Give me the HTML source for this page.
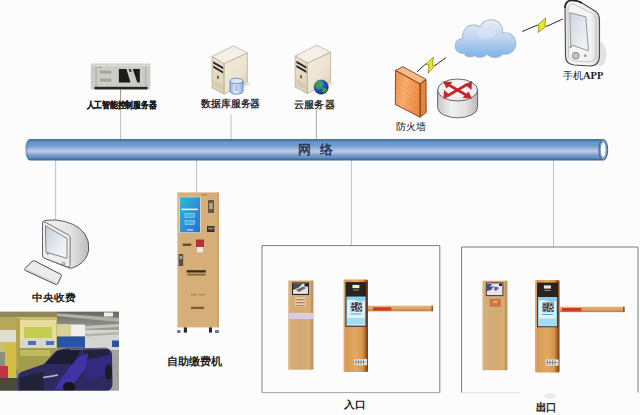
<!DOCTYPE html>
<html><head><meta charset="utf-8"><title>Parking system</title>
<style>
html,body{margin:0;padding:0;background:#fcfcfd;width:640px;height:415px;overflow:hidden}
svg{display:block}
text{font-family:"Liberation Sans",sans-serif}
</style></head><body>
<svg width="640" height="415" viewBox="0 0 640 415">
<defs>
<linearGradient id="bus" x1="0" y1="0" x2="0" y2="1">
<stop offset="0" stop-color="#46698f"/>
<stop offset="0.08" stop-color="#537fae"/>
<stop offset="0.15" stop-color="#6497cc"/>
<stop offset="0.32" stop-color="#6c9fd2"/>
<stop offset="0.48" stop-color="#adbbe0"/>
<stop offset="0.56" stop-color="#c2c6e6"/>
<stop offset="0.64" stop-color="#acbadf"/>
<stop offset="0.77" stop-color="#6e9dcd"/>
<stop offset="0.87" stop-color="#6290c2"/>
<stop offset="0.93" stop-color="#4d7099"/>
<stop offset="1" stop-color="#456688"/>
</linearGradient>
<linearGradient id="cloudg" x1="0" y1="0" x2="0" y2="1">
<stop offset="0" stop-color="#e6eefa"/>
<stop offset="0.5" stop-color="#b9d3f1"/>
<stop offset="1" stop-color="#76b0ea"/>
</linearGradient>
<linearGradient id="tan" x1="0" y1="0" x2="1" y2="0">
<stop offset="0" stop-color="#caa06a"/>
<stop offset="0.5" stop-color="#d6ad74"/>
<stop offset="1" stop-color="#c99d64"/>
</linearGradient>
<linearGradient id="gold" x1="0" y1="0" x2="1" y2="0">
<stop offset="0" stop-color="#c99a5c"/>
<stop offset="0.5" stop-color="#dcae70"/>
<stop offset="1" stop-color="#c4935a"/>
</linearGradient>
<linearGradient id="orange" x1="0" y1="0" x2="1" y2="0">
<stop offset="0" stop-color="#cf8a45"/>
<stop offset="0.5" stop-color="#e0a060"/>
<stop offset="1" stop-color="#c98240"/>
</linearGradient>
<linearGradient id="screen" x1="0" y1="0" x2="0" y2="1">
<stop offset="0" stop-color="#2aa0d8"/>
<stop offset="1" stop-color="#1c64c0"/>
</linearGradient>
<linearGradient id="router" x1="0" y1="0" x2="0" y2="1">
<stop offset="0" stop-color="#f4f4f4"/>
<stop offset="1" stop-color="#c8c8c8"/>
</linearGradient>
<linearGradient id="fw" x1="0" y1="0" x2="1" y2="1">
<stop offset="0" stop-color="#f7a868"/>
<stop offset="1" stop-color="#ee8436"/>
</linearGradient>
</defs>

<!-- connection lines -->
<g stroke="#c2c2c6" stroke-width="1">
<line x1="120.5" y1="89" x2="120.5" y2="110" stroke="#b89090"/>
<line x1="120.5" y1="110" x2="120.5" y2="140"/>
<line x1="231" y1="114.5" x2="231" y2="140"/>
<line x1="316.4" y1="110" x2="316.4" y2="140" stroke="#a8a8ac"/>
<line x1="55.6" y1="160" x2="55.6" y2="220.3"/>
<line x1="196.5" y1="160" x2="196.5" y2="193"/>
<line x1="351.4" y1="160" x2="351.4" y2="246"/>
<line x1="553.5" y1="160" x2="553.5" y2="247"/>
</g>

<!-- network bus -->
<rect x="25" y="139" width="581" height="21.5" rx="5" ry="10.7" fill="url(#bus)"/>
<path d="M31,139.6 Q27,142 27,149.8 Q27,157.6 31,160" fill="none" stroke="#4e6f96" stroke-width="0.8" opacity="0.7"/>
<ellipse cx="603.3" cy="149.8" rx="4.4" ry="10.4" fill="#7f9cc4" stroke="#3e5576" stroke-width="0.9"/>
<ellipse cx="603.2" cy="149.8" rx="2.3" ry="7.3" fill="#fbfcff"/>
<text x="298.3" y="154" font-size="13" fill="#1c2a4a" stroke="#1c2a4a" stroke-width="0.35">网</text>
<text x="320.3" y="154" font-size="13" fill="#1c2a4a" stroke="#1c2a4a" stroke-width="0.35">络</text>

<!-- AI server -->
<g>
<rect x="90.8" y="63.5" width="59.5" height="26" fill="#cbccc6"/>
<rect x="90.8" y="64.7" width="59.5" height="1.6" fill="#dededa"/>
<rect x="94.5" y="86.8" width="53" height="2.6" fill="#262626"/>
<rect x="95.6" y="66" width="1" height="20.5" fill="#a9aba5"/>
<rect x="145.3" y="66" width="1" height="20.5" fill="#a9aba5"/>
<rect x="99" y="69.8" width="13.2" height="4.6" fill="#dcdcd8"/>
<rect x="99.6" y="70.4" width="12" height="3.4" fill="#a4a6a0"/>
<rect x="99" y="77.8" width="13.2" height="4.6" fill="#dcdcd8"/>
<rect x="99.6" y="78.4" width="12" height="3.4" fill="#a4a6a0"/>
<rect x="99.5" y="66.8" width="1.6" height="1.2" fill="#777"/>
<polygon points="118.9,68.9 126.4,68.9 130.5,82.5 118.9,82.5" fill="#1c1a1a"/>
<polygon points="128.6,68.9 130.8,68.9 131.8,72 129.6,72" fill="#3a3838"/>
<polygon points="132.8,68.9 139.8,68.9 139.8,82.5 137.3,82.5" fill="#1c1a1a"/>
</g>
<text x="86.5" y="107.6" font-size="8.8" font-weight="bold" fill="#1c1c1c" stroke="#1c1c1c" stroke-width="0.3" textLength="70" lengthAdjust="spacingAndGlyphs">人工智能控制服务器</text>

<!-- DB server -->
<defs>
<linearGradient id="twr" x1="0" y1="0" x2="1" y2="1">
<stop offset="0" stop-color="#f3ece0"/><stop offset="0.6" stop-color="#ece2cf"/><stop offset="1" stop-color="#d9c9ab"/></linearGradient>
<linearGradient id="twf" x1="0" y1="0" x2="0" y2="1">
<stop offset="0" stop-color="#ebe1cc"/><stop offset="1" stop-color="#ddd0b4"/></linearGradient>
<linearGradient id="cyl" x1="0" y1="0" x2="1" y2="0">
<stop offset="0" stop-color="#8fb2dc"/><stop offset="0.45" stop-color="#e6f0fa"/><stop offset="1" stop-color="#8aaed8"/></linearGradient>
<radialGradient id="glb" cx="0.35" cy="0.3" r="0.8">
<stop offset="0" stop-color="#6fb0e8"/><stop offset="0.5" stop-color="#1f58b0"/><stop offset="1" stop-color="#0e2a6a"/></radialGradient>
<g id="tower">
<polygon points="0,10.8 21.6,0 35.4,7.2 12.2,18" fill="#f5f0e6" stroke="#a89c84" stroke-width="0.6" stroke-linejoin="round"/>
<polygon points="0,10.8 12.2,18 12.2,48.4 0,41.9" fill="url(#twf)" stroke="#a89c84" stroke-width="0.6"/>
<polygon points="12.2,18 35.4,7.2 35.4,36.2 12.2,48.4" fill="url(#twr)" stroke="#a89c84" stroke-width="0.6"/>
<polygon points="35.4,36.2 39,37.6 30,43 28,41" fill="#e8e0d0"/>
<polygon points="1.2,15.5 11.2,21.3 11.2,23.5 1.2,17.7" fill="#2a2a2a"/>
<polygon points="1.2,19.8 11.2,25.6 11.2,27.8 1.2,22" fill="#2a2a2a"/>
<rect x="5" y="30" width="1.8" height="3" fill="#5a5a5a"/>
<polygon points="1.5,35 10.5,40 10.5,41 1.5,36" fill="#c8bca4"/>
<polygon points="1.5,37.5 10.5,42.5 10.5,43.5 1.5,38.5" fill="#c8bca4"/>
</g>
</defs>
<use href="#tower" x="212" y="45.8"/>
<path d="M230,81 v10.2 a6.5,3 0 0 0 13,0 v-10.2z" fill="url(#cyl)" stroke="#5a80b0" stroke-width="0.8"/>
<ellipse cx="236.5" cy="81" rx="6.5" ry="2.7" fill="#d8e8f8" stroke="#5a80b0" stroke-width="0.8"/>
<rect x="235.6" y="85" width="1.8" height="6" fill="#6a8cbc" opacity="0.6"/>
<text x="201.2" y="107.3" font-size="10" font-weight="bold" fill="#2e2a36" textLength="59" lengthAdjust="spacingAndGlyphs">数据库服务器</text>

<!-- Cloud server -->
<use href="#tower" x="295.2" y="45.2"/>
<circle cx="321.2" cy="87.1" r="7.2" fill="url(#glb)" stroke="#2a3a6a" stroke-width="0.5"/>
<path d="M316,83 q2,-3 5,-2 q1,2 -1,3.5 q2,2 0.5,4 q-3,1 -4.5,-1.5z" fill="#3aa048"/>
<path d="M322.5,88 q3,-1 4.5,1.5 q-1,3 -4,3.2 q-1.5,-2 -0.5,-4.7z" fill="#3aa048"/>
<text x="294.2" y="107.6" font-size="10" font-weight="bold" fill="#2a2a2a" textLength="40.5" lengthAdjust="spacingAndGlyphs">云服务器</text>

<!-- firewall -->
<defs><linearGradient id="fw2" x1="0" y1="0" x2="1" y2="0.3">
<stop offset="0" stop-color="#ef8a44"/><stop offset="0.45" stop-color="#f6ab6c"/><stop offset="1" stop-color="#ec8840"/></linearGradient></defs>
<polygon points="395.5,70.4 403,66.7 426,79.4 420,84" fill="#f7bb88" stroke="#6a2e0e" stroke-width="0.8" stroke-linejoin="round"/>
<polygon points="420,84 426,79.4 426.2,112.5 420,117.2" fill="#e6843e" stroke="#6a2e0e" stroke-width="0.8" stroke-linejoin="round"/>
<polygon points="395.5,70.4 420,84 420,117.2 395.3,104.4" fill="url(#fw2)" stroke="#6a2e0e" stroke-width="0.8" stroke-linejoin="round"/>
<line x1="396.5" y1="75.2" x2="419" y2="88.0" stroke="#fbc89a" stroke-width="0.8" opacity="0.3"/><line x1="396.5" y1="80.0" x2="419" y2="92.8" stroke="#fbc89a" stroke-width="0.8" opacity="0.3"/><line x1="396.5" y1="84.8" x2="419" y2="97.6" stroke="#fbc89a" stroke-width="0.8" opacity="0.3"/><line x1="396.5" y1="89.6" x2="419" y2="102.4" stroke="#fbc89a" stroke-width="0.8" opacity="0.3"/><line x1="396.5" y1="94.4" x2="419" y2="107.2" stroke="#fbc89a" stroke-width="0.8" opacity="0.3"/><line x1="396.5" y1="99.2" x2="419" y2="112.0" stroke="#fbc89a" stroke-width="0.8" opacity="0.3"/>
<text x="395.5" y="130" font-size="10" fill="#222" textLength="30" lengthAdjust="spacingAndGlyphs">防火墙</text>

<!-- router -->
<defs><linearGradient id="rside" x1="0" y1="0" x2="1" y2="0">
<stop offset="0" stop-color="#c8c8c8"/><stop offset="0.35" stop-color="#f0f0f0"/><stop offset="0.7" stop-color="#e2e2e2"/><stop offset="1" stop-color="#b8b8b8"/></linearGradient>
<radialGradient id="rtop" cx="0.5" cy="0.4" r="0.7">
<stop offset="0" stop-color="#ffffff"/><stop offset="1" stop-color="#e4e2e2"/></radialGradient></defs>
<path d="M437.6,90 v17.5 a20,10.3 0 0 0 40,0 v-17.5z" fill="url(#rside)" stroke="#5a5a5a" stroke-width="0.9"/>
<ellipse cx="457.6" cy="90" rx="20" ry="11" fill="url(#rtop)" stroke="#5a5a5a" stroke-width="0.9"/>
<g stroke="#c2262c" stroke-width="2.6" fill="none" stroke-linecap="round">
<line x1="448" y1="84.5" x2="467" y2="95.5"/>
<line x1="448" y1="95.5" x2="467" y2="84.5"/>
</g>
<g fill="#c2262c">
<polygon points="443,81.5 452.5,82 446.5,88.5"/>
<polygon points="472,98.5 462.5,98 468.5,91.5"/>
<polygon points="443.5,99 444,90 450.5,95.5"/>
<polygon points="472,81 471.5,90 465,84.5"/>
</g>

<!-- lightning 1 -->
<g stroke="#2a2a1a" stroke-width="1">
<line x1="416.9" y1="71.9" x2="426.5" y2="63.3"/>
<line x1="435" y1="65.6" x2="446.2" y2="57.4"/>
</g>
<polygon points="425.5,64.5 433.5,57 432.5,65.5 436,64.8 428,73.3 429,65" fill="#ece423" stroke="#6a6a10" stroke-width="0.6"/>

<!-- cloud -->
<defs><linearGradient id="cloudu" gradientUnits="userSpaceOnUse" x1="0" y1="20" x2="0" y2="58">
<stop offset="0" stop-color="#e8eef8"/><stop offset="0.45" stop-color="#c2d6f0"/><stop offset="1" stop-color="#7ab2ea"/></linearGradient></defs>
<g fill="#a4b6ca"><circle cx="462.5" cy="46" r="7.9"/><circle cx="473.5" cy="36" r="11.4"/><circle cx="491" cy="31.5" r="12.200000000000001"/><circle cx="505" cy="43.5" r="11.3"/><circle cx="480" cy="48" r="9.9"/><circle cx="495" cy="47" r="10.9"/><circle cx="470" cy="50" r="7.4"/></g>
<g fill="url(#cloudu)"><circle cx="462.5" cy="46" r="7"/><circle cx="473.5" cy="36" r="10.5"/><circle cx="491" cy="31.5" r="11.3"/><circle cx="505" cy="43.5" r="10.4"/><circle cx="480" cy="48" r="9"/><circle cx="495" cy="47" r="10"/><circle cx="470" cy="50" r="6.5"/></g>
<ellipse cx="486" cy="34" rx="9" ry="5" fill="#eef3fb" opacity="0.3"/>

<!-- lightning 2 -->
<g stroke="#2a2a1a" stroke-width="1">
<line x1="522.3" y1="31.5" x2="537.5" y2="25"/>
<line x1="546.8" y1="26.3" x2="562.7" y2="19"/>
</g>
<polygon points="536.5,26 545.8,17.8 544.8,26.2 547.5,25.6 538,32.5 539,25.4" fill="#ece423" stroke="#6a6a10" stroke-width="0.6"/>

<!-- phone -->
<defs><linearGradient id="phb" x1="0" y1="0" x2="1" y2="0">
<stop offset="0" stop-color="#dcdcdc"/><stop offset="0.15" stop-color="#f6f6f6"/><stop offset="0.75" stop-color="#f2f2f2"/><stop offset="1" stop-color="#cfcfcf"/></linearGradient>
<linearGradient id="phs" x1="0" y1="0" x2="1" y2="1">
<stop offset="0" stop-color="#cfd6e0"/><stop offset="1" stop-color="#f4f6fa"/></linearGradient></defs>
<ellipse cx="600" cy="54" rx="6.5" ry="12" fill="#e2e2e2"/>
<path d="M565,8 Q565,1 571,0.5 Q577,0 582,3 L595,11 Q599.5,14 599.5,20 L599.5,55 Q599.5,66 590,66 L574,65 Q565.5,64 565.5,56 Z" fill="url(#phb)" stroke="#4a4a4a" stroke-width="1.1"/>
<path d="M565,8 Q565,1 571,0.5 Q577,0 582,3" fill="none" stroke="#222" stroke-width="1.6"/>
<path d="M568,10 Q568,4 573,4 L592,13 Q596,15 596,20 L596,54 Q596,62 588,62 L575,61 Q568.5,60 568.5,54 Z" fill="none" stroke="#bdbdbd" stroke-width="0.8"/>
<polygon points="569.8,12.7 585.9,16.9 588.4,50.7 570.7,44.8" fill="url(#phs)" stroke="#8a8a8a" stroke-width="0.9"/>
<circle cx="575.8" cy="55.7" r="3.4" fill="#c4c4c4" stroke="#6a6a6a" stroke-width="0.7"/>
<circle cx="570.7" cy="46.8" r="1.4" fill="#9a9a9a"/>
<circle cx="585.3" cy="55.7" r="1.4" fill="#9a9a9a"/>
<text x="563" y="79.4" font-size="9.8" fill="#222">手机<tspan font-family="Liberation Serif, serif" font-weight="bold" font-size="10.5">APP</tspan></text>

<!-- monitor + keyboard -->
<defs><linearGradient id="crt" x1="0" y1="0" x2="1" y2="0">
<stop offset="0" stop-color="#f2f2f2"/><stop offset="0.6" stop-color="#e4e4e4"/><stop offset="1" stop-color="#bcbcbc"/></linearGradient>
<linearGradient id="mscr" x1="0" y1="0" x2="1" y2="1">
<stop offset="0" stop-color="#c4ccd8"/><stop offset="0.6" stop-color="#e8ecf2"/><stop offset="1" stop-color="#f8f8fa"/></linearGradient></defs>
<path d="M42.5,224 Q42.5,220.5 46,220.3 L56,220 Q76,222 85,234 Q89.5,241 88.7,250 Q87,260 78,265.5 L72,268 Q70,268.5 68,267.5 L44,258 Q42.5,257 42.5,255 Z" fill="url(#crt)" stroke="#4a4a4a" stroke-width="0.9"/>
<path d="M42.5,223 Q43,221.3 45,222 L68.5,235 Q70.2,236 70.2,238 L70,265.5 Q69.8,267.8 67.5,267 L44,258 Q42.5,257.3 42.5,255.5 Z" fill="#eeeeee" stroke="#555" stroke-width="0.8"/>
<polygon points="45.4,225.8 67,238.4 67,258.3 46,252.2" fill="url(#mscr)" stroke="#6a6a6a" stroke-width="0.8"/>
<circle cx="47.8" cy="254" r="0.9" fill="#888"/>
<circle cx="63.5" cy="263.6" r="1.5" fill="#d8d8d8" stroke="#666" stroke-width="0.6"/>
<path d="M25,268.5 L32.5,261 Q33.5,260.3 35,261 L61,274.5 Q62,275.5 61.2,276.5 L57.5,284 Q56.8,285 55.5,284.4 L25.5,270.5 Q24.3,269.6 25,268.5 Z" fill="#ececec" stroke="#3a3a3a" stroke-width="0.9"/>
<path d="M27,269.5 L56,283" stroke="#c4c4c4" stroke-width="0.8"/>
<text x="32.3" y="301.2" font-size="10" font-weight="bold" fill="#1a1a1a" textLength="43" lengthAdjust="spacingAndGlyphs">中央收费</text>

<!-- parking photo -->
<defs>
<linearGradient id="ceil" x1="0" y1="0" x2="0" y2="1">
<stop offset="0" stop-color="#66665f"/><stop offset="1" stop-color="#a4a49c"/>
</linearGradient>
<linearGradient id="carg" x1="0" y1="0" x2="1" y2="0">
<stop offset="0" stop-color="#23223e"/><stop offset="0.5" stop-color="#2c2660"/><stop offset="1" stop-color="#25234a"/>
</linearGradient>
<filter id="bl1" x="-5%" y="-5%" width="110%" height="110%"><feGaussianBlur stdDeviation="0.75"/></filter>
<clipPath id="phc"><rect x="0" y="311.5" width="119" height="79.3"/></clipPath>
</defs>
<g clip-path="url(#phc)"><g filter="url(#bl1)">
<rect x="0" y="311.5" width="119" height="79.3" fill="#8e8e7e"/>
<rect x="57" y="311.5" width="62" height="20" fill="url(#ceil)"/>
<polygon points="40,312 119,318 119,322 45,315" fill="#b0b0a8"/>
<polygon points="85,326 119,324 119,327 85,329" fill="#c4c4be"/>
<rect x="104" y="312.5" width="9" height="4" fill="#f0f0ec"/>
<rect x="0" y="311.5" width="57" height="6" fill="#8e885a"/>
<rect x="0" y="317" width="57" height="35" fill="#cbbe6c"/>
<rect x="20" y="320" width="36" height="28" fill="#e6dc9c"/>
<rect x="24" y="327" width="28" height="11" fill="#c6cc50"/>
<rect x="20" y="339" width="36" height="9" fill="#d6d8ce"/>
<rect x="28" y="341" width="8" height="4" fill="#4a72b6"/>
<rect x="46" y="341" width="8" height="4" fill="#4a72b6"/>
<rect x="0" y="330" width="16" height="12" fill="#e0ded0"/>
<rect x="0" y="317" width="16" height="13" fill="#b6a85a"/>
<rect x="16" y="318" width="4" height="52" fill="#b8a448"/>
<rect x="5" y="344" width="11" height="34" fill="#d2be44"/>
<rect x="57" y="324.5" width="28" height="12" fill="#eeeeea"/>
<rect x="57" y="324.5" width="14" height="12" fill="#dad09a"/>
<rect x="57" y="336.5" width="28" height="11" fill="#2a52a4"/>
<rect x="85" y="330" width="34" height="22" fill="#d4d4d0"/>
<polygon points="85,334 119,332 119,334.5 85,336.5" fill="#b4b4ae"/>
<rect x="112" y="340.5" width="7" height="6.5" fill="#2a52a4"/>
<rect x="18" y="348" width="40" height="24" fill="#a29c4e"/>
<rect x="20" y="350" width="30" height="6" fill="#c2b85c"/>
<rect x="100" y="350" width="19" height="41" fill="#a2a2a0"/>
<rect x="0" y="366" width="8" height="25" fill="#c23444"/>
<rect x="0" y="378" width="18" height="13" fill="#4a4a3a"/>
<path d="M18,391 L18,376 Q19,372 24,371 L44,364 L56,351 Q60,349 66,348.5 L106,347.7 Q111,349 112,354 L112.5,385 Q111,391 106,391 Z" fill="#2e2a5e"/>
<polygon points="45,364 58,351 80,349.5 76,364" fill="#1e1c30"/>
<polygon points="83,349.5 107,349 109.5,358 85,361" fill="#24223e"/>
<path d="M84,360 L110,355 L111,374 L86,380 Z" fill="#332a80"/>
<polygon points="54,390 62,377 78,357 88,353 86,368 70,388" fill="#4230a8"/>
<path d="M70,349.5 L108,348.5" stroke="#74709a" stroke-width="1.2"/>
<path d="M20,378 Q30,374 44,372 L44,391 L20,391Z" fill="#23213a"/>
<path d="M43,377.5 Q51,376.5 58,375" stroke="#b4b4cc" stroke-width="1.5" fill="none"/>
<ellipse cx="69" cy="387" rx="6" ry="5" fill="#16161c"/>
<ellipse cx="108.5" cy="372" rx="3.5" ry="8" fill="#1a1a20"/>
</g></g>

<!-- kiosk -->
<defs>
<linearGradient id="kscr" x1="0" y1="0" x2="1" y2="1">
<stop offset="0" stop-color="#30b8d4"/><stop offset="0.5" stop-color="#2c94d8"/><stop offset="1" stop-color="#2a70c8"/>
</linearGradient>
</defs>
<g>
<rect x="177" y="192.4" width="41.7" height="135" fill="#d5ae7a"/>
<rect x="177" y="192.4" width="1.2" height="135" fill="#e6cda6"/>
<rect x="217.5" y="192.4" width="1.2" height="135" fill="#c49a62"/>
<rect x="201.5" y="194" width="5" height="1.6" fill="#e0804a"/>
<rect x="179.3" y="196.7" width="21.4" height="36.3" fill="#e9e2d4"/>
<rect x="180" y="197.3" width="20" height="35" fill="url(#kscr)"/>
<rect x="181.5" y="208.6" width="16.5" height="1.6" fill="#e8f6fc"/>
<rect x="185" y="213.5" width="9.5" height="4" fill="#4ab0e4" stroke="#b8e2f6" stroke-width="0.5"/>
<rect x="185" y="220.5" width="9.5" height="4" fill="#4ab0e4" stroke="#b8e2f6" stroke-width="0.5"/>
<rect x="187" y="229.3" width="6" height="1.2" fill="#cfe8f8"/>
<rect x="208" y="200" width="6" height="13" fill="#6a5844"/>
<rect x="209.3" y="203" width="3.4" height="6" fill="#b8a890"/>
<rect x="207" y="226" width="7.5" height="6" fill="#3e3224"/>
<rect x="208" y="227.5" width="5.5" height="2" fill="#8a7a66"/>
<rect x="196" y="239.5" width="8" height="7.5" fill="#b83232"/>
<rect x="197" y="247" width="6" height="5.2" fill="#f1ece6"/>
<rect x="182.7" y="243.6" width="8.6" height="2.3" fill="#5e4630"/>
<rect x="178.6" y="254" width="4.6" height="12" fill="#55524e"/>
<rect x="179.6" y="256" width="2.6" height="3" fill="#a9a6a0"/>
<rect x="186.7" y="270.2" width="19.1" height="2.5" fill="#3a2c1c"/>
<rect x="187" y="272.7" width="18.5" height="1.5" fill="#c09a68"/>
<rect x="187.5" y="274.2" width="18" height="1.2" fill="#6a5034"/>
<rect x="191" y="293.9" width="6" height="1.6" fill="#b08a58"/>
<rect x="199" y="293.9" width="6" height="1.6" fill="#b08a58"/>
<rect x="191" y="306.8" width="13" height="2.2" fill="#7a5c38"/>
<rect x="183.8" y="327.4" width="3.2" height="5.2" fill="#2a2a2a"/>
<rect x="209" y="327.4" width="3" height="5.2" fill="#2a2a2a"/>
<rect x="177" y="330" width="3.5" height="3" fill="#7a7a7a"/>
<rect x="215" y="330" width="4" height="3" fill="#7a7a7a"/>
</g>
<text x="166.8" y="365.4" font-size="11" font-weight="bold" fill="#222" textLength="55.5" lengthAdjust="spacingAndGlyphs">自助缴费机</text>

<!-- entrance box -->
<defs>
<linearGradient id="tk" x1="0" y1="0" x2="1" y2="0">
<stop offset="0" stop-color="#e6cca6"/><stop offset="0.07" stop-color="#d6ae78"/><stop offset="0.5" stop-color="#d4a974"/><stop offset="0.85" stop-color="#d8ad74"/><stop offset="0.95" stop-color="#b88e5a"/><stop offset="1" stop-color="#c9a46e"/>
</linearGradient>
<linearGradient id="br" x1="0" y1="0" x2="1" y2="0">
<stop offset="0" stop-color="#e0b078"/><stop offset="0.1" stop-color="#d89a52"/><stop offset="0.5" stop-color="#e2a864"/><stop offset="0.78" stop-color="#d8954c"/><stop offset="0.9" stop-color="#a8642c"/><stop offset="1" stop-color="#6a3c20"/>
</linearGradient>
<linearGradient id="arm" x1="0" y1="0" x2="0" y2="1">
<stop offset="0" stop-color="#e8b478"/><stop offset="0.6" stop-color="#dca060"/><stop offset="1" stop-color="#b07a40"/>
</linearGradient>
<linearGradient id="tscr" x1="0" y1="0" x2="1" y2="1">
<stop offset="0" stop-color="#3a3a3a"/><stop offset="0.45" stop-color="#9a9a9a"/><stop offset="0.7" stop-color="#e8e8e8"/><stop offset="1" stop-color="#f4f4f4"/>
</linearGradient>
<g id="barrier">
<rect x="0" y="0" width="24.5" height="92.5" rx="1.5" fill="url(#br)"/>
<rect x="2" y="2.6" width="21" height="44.6" fill="#2a221e"/>
<rect x="8.9" y="5.4" width="7" height="3.2" fill="#e8e8e8"/>
<rect x="9.5" y="10" width="6" height="0.9" fill="#9a9a9a"/>
<rect x="2.8" y="17" width="19.4" height="29.4" fill="#6cc4e6"/>
<rect x="3.6" y="17.8" width="17.8" height="27.8" fill="#e0f2fa"/>
<path d="M3.6,21 q4,-2 9,0 q4,2 8.8,0 v-3.2 h-17.8z" fill="#86cfec"/>
<rect x="7.3" y="22.5" width="11.4" height="9.6" fill="#41474d"/><rect x="7.8" y="23" width="3.4" height="3.2" fill="none" stroke="#e8eef2" stroke-width="0.6"/><rect x="14.6" y="23" width="3.4" height="3.2" fill="none" stroke="#e8eef2" stroke-width="0.6"/><rect x="7.8" y="28.7" width="3.4" height="3.2" fill="none" stroke="#e8eef2" stroke-width="0.6"/><rect x="13.0" y="29.1" width="1" height="1" fill="#dfe6ea"/><rect x="13.9" y="29.4" width="1" height="1" fill="#dfe6ea"/><rect x="15.6" y="26.6" width="1" height="1" fill="#dfe6ea"/><rect x="11.6" y="30.7" width="1" height="1" fill="#dfe6ea"/><rect x="13.2" y="27.5" width="1" height="1" fill="#dfe6ea"/><rect x="18.0" y="28.7" width="1" height="1" fill="#dfe6ea"/><rect x="16.9" y="28.8" width="1" height="1" fill="#dfe6ea"/><rect x="15.7" y="27.1" width="1" height="1" fill="#dfe6ea"/><rect x="15.6" y="30.8" width="1" height="1" fill="#dfe6ea"/><rect x="14.9" y="30.2" width="1" height="1" fill="#dfe6ea"/><rect x="15.9" y="26.6" width="1" height="1" fill="#dfe6ea"/><rect x="16.4" y="29.4" width="1" height="1" fill="#dfe6ea"/><rect x="13.5" y="26.5" width="1" height="1" fill="#dfe6ea"/><rect x="17.1" y="28.8" width="1" height="1" fill="#dfe6ea"/>
<rect x="7" y="34" width="11" height="1" fill="#4aa8d8"/>
<rect x="3.6" y="38.5" width="17.8" height="6.5" fill="#a4dcf2"/>
<rect x="10.7" y="79.5" width="12.8" height="6.2" fill="#e8e8e4"/>
<path d="M12.5,80 v5.2 M15,80 v5.2 M17.5,80 v5.2 M20,80 v5.2 M11,82.6 h12" stroke="#6a6a6a" stroke-width="0.7"/>
</g>
</defs>
<polyline points="262,392.6 262,245.6 439.8,245.6 439.8,392.6" fill="none" stroke="#7e7e7e" stroke-width="1"/><line x1="262" y1="392.6" x2="439.8" y2="392.6" stroke="#a4a4a4" stroke-width="1"/>
<!-- entrance ticket machine -->
<rect x="288" y="280.5" width="25.5" height="89.2" fill="url(#tk)"/>
<rect x="292" y="282.4" width="17" height="12.6" fill="#262626"/>
<rect x="293" y="283.5" width="15" height="10.4" fill="#e4e4e2"/>
<polygon points="293,283.5 303,283.5 298,288 293,290" fill="#4a4a4a"/>
<polygon points="296,290 303,286.5 306,288 299,292" fill="#6a6a6a"/>
<rect x="304.5" y="283.5" width="3.5" height="3" fill="#1a1a1a"/>
<rect x="295.4" y="297.4" width="10.2" height="9.6" fill="#e6d2b2"/>
<rect x="296.2" y="299" width="8.6" height="1.3" fill="#b08058"/>
<rect x="296.2" y="302" width="8.6" height="1.3" fill="#b08058"/>
<rect x="296.2" y="305" width="8.6" height="1.3" fill="#b08058"/>
<rect x="288.3" y="312.8" width="25" height="6.2" fill="#d8cce0"/>
<!-- entrance barrier -->
<use href="#barrier" x="343.5" y="279.5"/>
<rect x="368" y="305.7" width="65" height="5.6" fill="url(#arm)"/>
<rect x="373" y="307.3" width="18.3" height="3.2" fill="#cc3a2a"/>
<rect x="431.5" y="305.7" width="1.6" height="5.6" fill="#7a6040"/>
<text x="344" y="408" font-size="10" font-weight="bold" fill="#1a1a1a" textLength="21.5" lengthAdjust="spacingAndGlyphs">入口</text>

<!-- exit box -->
<polyline points="461.6,392.6 461.6,247 638,247 638,392.6" fill="none" stroke="#7c7c7c" stroke-width="1"/>
<line x1="461.6" y1="392.6" x2="520" y2="392.6" stroke="#e2e2e2" stroke-width="1"/>
<!-- exit ticket machine -->
<rect x="482.2" y="280.7" width="25.3" height="89.5" fill="url(#tk)"/>
<rect x="485.8" y="282.4" width="17.6" height="13.7" fill="#3a3440"/>
<rect x="486.8" y="283.4" width="15.6" height="11.7" fill="#e8e4ee"/>
<path d="M487,284 h5 l-2,3 l4,-1 l-3,4 l-4,1z" fill="#4a4a8a"/>
<path d="M494,287 q3,-1 5,1 l-3,3 q-2,0 -2,-4z" fill="#6a64a0"/>
<rect x="499" y="283.6" width="3" height="2.4" fill="#2a2a30"/>
<rect x="489.6" y="298.8" width="11.2" height="7.9" fill="#b87a4a"/>
<rect x="491.4" y="300.2" width="7.6" height="5.2" fill="#e2782e"/>
<rect x="493.5" y="300.8" width="3.5" height="2" fill="#f4b070"/>
<rect x="487" y="311" width="15" height="0.8" fill="#c8a880"/>
<rect x="488" y="316.5" width="4" height="0.8" fill="#c8a880"/>
<rect x="496" y="316.5" width="4" height="0.8" fill="#c8a880"/>
<!-- exit barrier -->
<use href="#barrier" x="535" y="280"/>
<rect x="559.5" y="306.7" width="65" height="5.4" fill="url(#arm)"/>
<rect x="562" y="308" width="19.5" height="3.2" fill="#cc3a2a"/>
<rect x="623" y="306.7" width="1.6" height="5.4" fill="#7a6040"/>
<ellipse cx="550" cy="396" rx="6" ry="3" fill="#ececef"/>
<rect x="537" y="403" width="8.5" height="7.5" fill="#555" opacity="0.45"/>
<text x="535.8" y="410.6" font-size="11" font-weight="bold" fill="#2a2a2a" textLength="21" lengthAdjust="spacingAndGlyphs">出口</text>

</svg>
</body></html>
